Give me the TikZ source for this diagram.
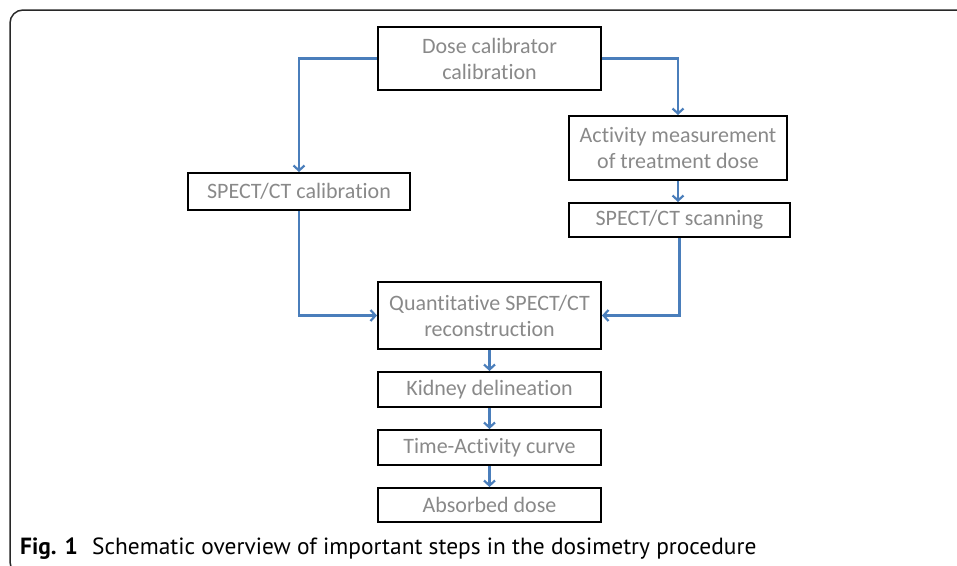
\documentclass[tikz,border=0pt]{standalone}
\usepackage{fontspec}
\setmainfont{Carlito}[Ligatures=NoCommon]
\newfontfamily\capfont{PT Sans}
\usetikzlibrary{arrows.meta,calc}
\definecolor{boxtext}{RGB}{137,137,137}
\definecolor{arrowblue}{RGB}{74,126,187}
\definecolor{framegray}{RGB}{40,40,40}
\begin{document}
\begin{tikzpicture}[x=1pt,y=-1pt,
  stepbox/.style={draw=black,line width=2pt,text=boxtext,align=center,
    inner sep=0pt,font=\fontsize{22}{26}\selectfont},
  flow/.style={draw=arrowblue,line width=2.2pt,
    -{Straight Barb[length=5pt,width=11pt]}}]
\useasboundingbox (0,0) rectangle (957,565);
\clip (0,0) rectangle (957,565);
\draw[framegray,line width=1.5pt,rounded corners=13pt] (10,10) rectangle (990,575);
\node[stepbox,minimum width=223pt,minimum height=63pt] (dose) at (489.5,58.5) {Dose calibrator\\calibration};
\node[stepbox,minimum width=218pt,minimum height=64pt] (act) at (678,148) {Activity measurement\\of treatment dose};
\node[stepbox,minimum width=221pt,minimum height=34pt] (scan) at (679.5,220) {SPECT/CT scanning};
\node[stepbox,minimum width=222pt,minimum height=37pt] (cal) at (299,191.5) {SPECT/CT calibration};
\node[stepbox,minimum width=223pt,minimum height=67pt] (quant) at (489.5,315.5) {Quantitative SPECT/CT\\reconstruction};
\node[stepbox,minimum width=223pt,minimum height=35pt] (kid) at (489.5,389.5) {Kidney delineation};
\node[stepbox,minimum width=223pt,minimum height=35pt] (tac) at (489.5,447.5) {Time-Activity curve};
\node[stepbox,minimum width=223pt,minimum height=34pt] (abs) at (489.5,505) {Absorbed dose};
\draw[flow] (dose.west) -| (cal.north);
\draw[flow] (dose.east) -| (act.north);
\draw[flow] (act.south) -- (act.south |- scan.north);
\draw[flow] (scan.south) |- (quant.east);
\draw[flow] (cal.south) |- (quant.west);
\draw[flow] (quant.south) -- (kid.north);
\draw[flow] (kid.south) -- (tac.north);
\draw[flow] (tac.south) -- (abs.north);
\node[anchor=base west,inner sep=0pt,font=\capfont\fontsize{23.4}{28}\selectfont] (cap) at (20,554)
  {\textbf{Fig. 1}\hspace{8pt} Schematic overview of important steps in the dosimetry procedure};
\end{tikzpicture}
\end{document}
